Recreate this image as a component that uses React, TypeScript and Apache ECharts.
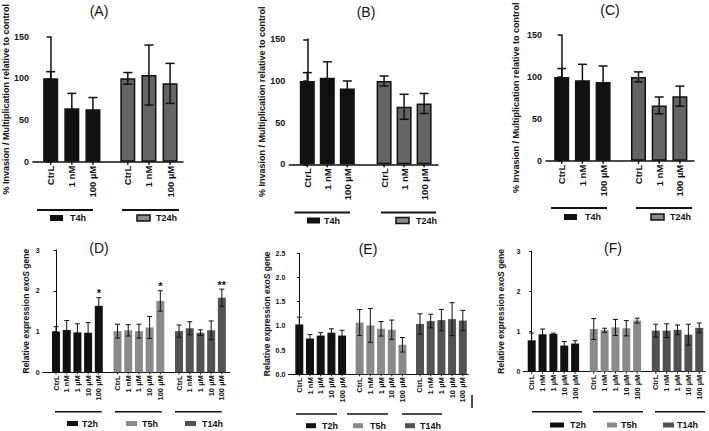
import React, { useEffect, useRef } from 'react';
import * as echarts from 'echarts';

const FONT = '"Liberation Sans", Arial, Helvetica, sans-serif';

// ---------- Top row (A–C) ----------
const topCategories = ['CtrL', '1 nM', '100 µM'];
const topGroups = ['T4h', 'T24h'];
const topYName = '% Invasion / Multiplication relative to control';
const panelAMeans = [[100, 64, 63], [100, 104, 94]];
const panelAErrors = [[8, 18, 14], [7, 36, 24]];
const panelBMeans = [[100, 104, 91], [100, 69, 73]];
const panelBErrors = [[10, 19, 9], [6, 15, 12]];
const panelCMeans = [[100, 96, 94], [100, 66, 77]];
const panelCErrors = [[10, 19, 19], [6, 10, 12]];

// ---------- Bottom row (D–F) ----------
const bottomCategories = ['CtrL', '1 nM', '1 µM', '10 µM', '100 µM'];
const bottomGroups = ['T2h', 'T5h', 'T14h'];
const panelDMeans = [
  [1.0, 1.04, 0.98, 0.97, 1.63],
  [1.01, 1.03, 1.01, 1.1, 1.75],
  [1.01, 1.08, 0.97, 1.03, 1.83],
];
const panelDErrors = [
  [0.12, 0.23, 0.21, 0.25, 0.2],
  [0.17, 0.14, 0.17, 0.27, 0.25],
  [0.15, 0.16, 0.07, 0.23, 0.21],
];
const panelDStars = [
  ['', '', '', '', '*'],
  ['', '', '', '', '*'],
  ['', '', '', '', '**'],
];
const panelEMeans = [
  [1.03, 0.74, 0.8, 0.86, 0.8],
  [1.07, 1.01, 0.94, 0.92, 0.61],
  [1.04, 1.1, 1.12, 1.14, 1.11],
];
const panelEErrors = [
  [0.15, 0.08, 0.06, 0.08, 0.11],
  [0.27, 0.35, 0.15, 0.2, 0.15],
  [0.21, 0.14, 0.22, 0.34, 0.21],
];
const panelFMeans = [
  [0.78, 0.93, 0.94, 0.65, 0.7],
  [1.06, 1.03, 1.1, 1.08, 1.27],
  [1.02, 1.02, 1.04, 0.92, 1.09],
];
const panelFErrors = [
  [0.18, 0.13, 0.02, 0.1, 0.07],
  [0.26, 0.05, 0.2, 0.19, 0.06],
  [0.16, 0.17, 0.12, 0.26, 0.12],
];
const noStars3 = [
  ['', '', '', '', ''],
  ['', '', '', '', ''],
  ['', '', '', '', ''],
];

const topColors = ['#111111', '#646464'];
const bottomColors = ['#111111', '#8a8a8a', '#525252'];

type Panel = {
  title: string; tx: number; ty: number;
  x0: number; x1: number; firstBar: number; step: number; gap: number;
  top: number; bottom: number; yMax: number; yStep: number; yDecimals: number;
  nameGap: number; cats: string[]; groups: string[]; means: number[][]; errors: number[][];
  stars: string[][]; colors: string[]; top3: boolean;
  lineY: number; lines: number[][]; legY: number; boxes: number[][]; legText: number[];
};

const panels: Panel[] = [
  {
    title: '(A)', tx: 99, ty: 11, x0: 31, x1: 183, firstBar: 49, step: 21.4, gap: 1.65,
    top: 36.7, bottom: 161.7, yMax: 150, yStep: 50, yDecimals: 0, nameGap: 19,
    cats: topCategories, groups: topGroups, means: panelAMeans, errors: panelAErrors,
    stars: [['', '', ''], ['', '', '']], colors: topColors, top3: true,
    lineY: 210, lines: [[37, 93], [122, 179]], legY: 218, boxes: [[50, 13], [137, 13]], legText: [70, 156],
  },
  {
    title: '(B)', tx: 366, ty: 12, x0: 289.3, x1: 438, firstBar: 307.3, step: 20, gap: 1.84,
    top: 39.3, bottom: 164.3, yMax: 150, yStep: 50, yDecimals: 0, nameGap: 19,
    cats: topCategories, groups: topGroups, means: panelBMeans, errors: panelBErrors,
    stars: [['', '', ''], ['', '', '']], colors: topColors, top3: true,
    lineY: 212.5, lines: [[294.5, 350], [381, 436]], legY: 220.5, boxes: [[307, 13], [396, 13]], legText: [324, 416],
  },
  {
    title: '(C)', tx: 610, ty: 10, x0: 546, x1: 694, firstBar: 561.7, step: 20.7, gap: 1.71,
    top: 35, bottom: 160.7, yMax: 150, yStep: 50, yDecimals: 0, nameGap: 26,
    cats: topCategories, groups: topGroups, means: panelCMeans, errors: panelCErrors,
    stars: [['', '', ''], ['', '', '']], colors: topColors, top3: true,
    lineY: 208, lines: [[551, 607], [636, 692]], legY: 217, boxes: [[564, 13], [651, 13]], legText: [585, 670],
  },
  {
    title: '(D)', tx: 99, ty: 248, x0: 42.7, x1: 230, firstBar: 56, step: 10.7, gap: 1.75,
    top: 250, bottom: 372.3, yMax: 3, yStep: 1, yDecimals: 0, nameGap: 12,
    cats: bottomCategories, groups: bottomGroups, means: panelDMeans, errors: panelDErrors,
    stars: panelDStars, colors: bottomColors, top3: false,
    lineY: 411.7, lines: [[55, 101.7], [115, 161.7], [175, 221.7]], legY: 423.5,
    boxes: [[67, 11], [126, 11], [185, 11]], legText: [82, 142, 202],
  },
  {
    title: '(E)', tx: 368, ty: 249, x0: 288.3, x1: 468, firstBar: 299.3, step: 10.7, gap: 1.64,
    top: 253.3, bottom: 374.3, yMax: 2.5, yStep: 0.5, yDecimals: 1, nameGap: 15,
    cats: bottomCategories, groups: bottomGroups, means: panelEMeans, errors: panelEErrors,
    stars: noStars3, colors: bottomColors, top3: false,
    lineY: 414, lines: [[296, 337], [347, 388], [402, 442]], legY: 425.7,
    boxes: [[306, 10], [353, 10], [405, 10]], legText: [322, 370, 420],
  },
  {
    title: '(F)', tx: 613, ty: 248, x0: 523.3, x1: 705, firstBar: 531.7, step: 10.85, gap: 1.72,
    top: 251, bottom: 371.7, yMax: 3, yStep: 1, yDecimals: 0, nameGap: 18,
    cats: bottomCategories, groups: bottomGroups, means: panelFMeans, errors: panelFErrors,
    stars: noStars3, colors: bottomColors, top3: false,
    lineY: 411.7, lines: [[532, 582], [593, 643], [655, 705]], legY: 425,
    boxes: [[550, 14], [607, 10], [663, 11]], legText: [570, 621, 677],
  },
];

function pos(P: Panel, g: number, i: number) {
  const n = P.cats.length;
  return g * (n - 1 + P.gap) + i;
}

function buildOption() {
  const grid: any[] = [];
  const xAxis: any[] = [];
  const yAxis: any[] = [];
  const series: any[] = [];
  const graphic: any[] = [];

  panels.forEach((P, p) => {
    const axisW = P.top3 ? 1.5 : 1;
    grid.push({ left: P.x0, top: P.top, width: P.x1 - P.x0, height: P.bottom - P.top, containLabel: false });
    xAxis.push({
      type: 'value', gridIndex: p,
      min: -(P.firstBar - P.x0) / P.step, max: (P.x1 - P.firstBar) / P.step,
      axisLine: { show: true, onZero: false, lineStyle: { color: '#111', width: axisW } },
      axisTick: { show: false }, axisLabel: { show: false }, splitLine: { show: false },
    });
    const isRich = !P.top3;
    yAxis.push({
      type: 'value', gridIndex: p, min: 0, max: P.yMax, interval: P.yStep,
      axisLine: { show: true, lineStyle: { color: '#111', width: axisW } },
      axisTick: { show: true, length: P.top3 ? 4 : 2.5, lineStyle: { color: '#111', width: axisW } },
      axisLabel: {
        color: '#111', fontFamily: FONT, fontWeight: 'bold', fontSize: P.top3 ? 9 : 7,
        margin: P.top3 ? 4 : 3,
        formatter: (v: number) => v.toFixed(P.yDecimals),
      },
      splitLine: { show: false },
      name: isRich ? '{n|Relative expression }{i|exoS}{n| gene}' : topYName,
      nameLocation: 'middle', nameGap: P.nameGap,
      nameTextStyle: isRich
        ? {
            rich: {
              n: { fontFamily: FONT, fontWeight: 'bold', fontSize: 8.5, color: '#111' },
              i: { fontFamily: FONT, fontWeight: 'bold', fontStyle: 'italic', fontSize: 8.5, color: '#111' },
            },
          }
        : { fontFamily: FONT, fontWeight: 'bold', fontSize: 9, color: '#111' },
    });

    const barData: any[] = [];
    const errData: any[] = [];
    P.means.forEach((row, g) => {
      row.forEach((v, i) => {
        barData.push({
          value: [pos(P, g, i), v],
          itemStyle: P.top3
            ? { color: P.colors[g], borderColor: '#111', borderWidth: 1.5 }
            : { color: P.colors[g] },
        });
        errData.push([pos(P, g, i), v, P.errors[g][i], g, i]);
      });
    });
    series.push({
      type: 'bar', xAxisIndex: p, yAxisIndex: p, data: barData,
      barWidth: P.top3 ? 15 : 8, silent: true,
    });
    const lw = P.top3 ? 1.5 : 1;
    const cap = P.top3 ? 4.5 : 2.5;
    series.push({
      type: 'custom', xAxisIndex: p, yAxisIndex: p, data: errData, z: 5, silent: true, clip: false,
      renderItem: (params: any, api: any) => {
        const x = api.value(0);
        const m = api.value(1);
        const e = api.value(2);
        const g = api.value(3);
        const i = api.value(4);
        const t = api.coord([x, m + e]);
        const b = api.coord([x, m - e]);
        const z0 = api.coord([x, 0]);
        const st = { stroke: '#111', lineWidth: lw };
        const children: any[] = [
          { type: 'line', shape: { x1: t[0], y1: t[1], x2: b[0], y2: b[1] }, style: st },
          { type: 'line', shape: { x1: t[0] - cap, y1: t[1], x2: t[0] + cap, y2: t[1] }, style: st },
          { type: 'line', shape: { x1: b[0] - cap, y1: b[1], x2: b[0] + cap, y2: b[1] }, style: st },
          { type: 'line', shape: { x1: z0[0], y1: z0[1], x2: z0[0], y2: z0[1] + (P.top3 ? 3 : 2) }, style: st },
          {
            type: 'text', x: z0[0], y: z0[1] + (P.top3 ? 4 : 3), rotation: Math.PI / 2,
            style: {
              text: P.cats[i], align: 'right', verticalAlign: 'middle',
              fontFamily: FONT, fontWeight: 'bold', fontSize: P.top3 ? 9.5 : 7.5, fill: '#111',
            },
          },
        ];
        const star = P.stars[g][i];
        if (star) {
          children.push({
            type: 'text', x: t[0], y: t[1] + 1,
            style: {
              text: star, align: 'center', verticalAlign: 'bottom',
              fontFamily: FONT, fontWeight: 'bold', fontSize: 11, fill: '#111',
            },
          });
        }
        return { type: 'group', children };
      },
    });

    graphic.push({
      type: 'text', x: P.tx, y: P.ty,
      style: { text: P.title, fontFamily: FONT, fontSize: 14, fill: '#111', align: 'center', verticalAlign: 'middle' },
    });
    P.lines.forEach((l) => {
      graphic.push({
        type: 'line', shape: { x1: l[0], y1: P.lineY, x2: l[1], y2: P.lineY },
        style: { stroke: '#111', lineWidth: P.top3 ? 2 : 1.5 },
      });
    });
    P.groups.forEach((name, g) => {
      const bx = P.boxes[g];
      const h = P.top3 ? 6 : 5;
      const outlined = P.top3 && g === 1;
      graphic.push({
        type: 'rect',
        shape: { x: bx[0], y: P.legY - h / 2, width: bx[1], height: h },
        style: outlined
          ? { fill: '#8a8a8a', stroke: '#111', lineWidth: 1.5 }
          : { fill: P.colors[g] },
      });
      graphic.push({
        type: 'text', x: P.legText[g], y: P.legY,
        style: { text: name, fontFamily: FONT, fontWeight: 'bold', fontSize: 9, fill: '#111', align: 'left', verticalAlign: 'middle' },
      });
    });
  });

  graphic.push({
    type: 'line', shape: { x1: 472, y1: 395, x2: 472, y2: 408 },
    style: { stroke: '#111', lineWidth: 1.5 },
  });

  return {
    animation: false,
    backgroundColor: '#ffffff',
    grid, xAxis, yAxis, series, graphic,
  };
}

export default function App() {
  const ref = useRef<HTMLDivElement>(null);
  useEffect(() => {
    if (!ref.current) return;
    const chart = echarts.init(ref.current, undefined, { renderer: 'svg' });
    chart.setOption(buildOption() as any);
    return () => chart.dispose();
  }, []);
  return (
    <div
      ref={ref}
      style={{ position: 'absolute', left: 0, top: 0, width: 709, height: 431, background: '#fff' }}
    />
  );
}
